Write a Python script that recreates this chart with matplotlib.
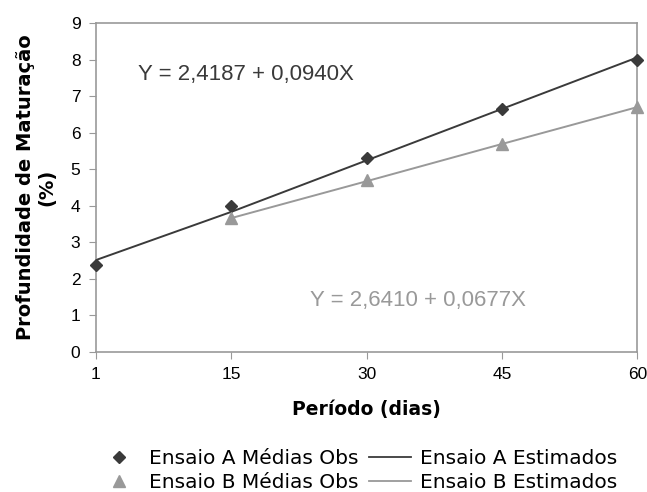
import numpy as np
import matplotlib.pyplot as plt
from matplotlib.lines import Line2D

plt.rcParams["font.family"] = ["Liberation Sans", "DejaVu Sans"]

# Data
periods = ["1", "15", "30", "45", "60"]
a_obs = [2.37, 4.00, 5.31, 6.66, 7.98]
a_est = [2.51, 3.83, 5.24, 6.65, 8.06]
b_obs = [np.nan, 3.66, 4.71, 5.70, 6.71]
b_est = [np.nan, 3.66, 4.67, 5.69, 6.70]

dark = "#3a3a3a"
grey = "#999999"
wide = ["DejaVu Sans"]  # wider face, closer to the spaced-out text of the original

fig = plt.figure(figsize=(6.47, 4.92), dpi=100)
ax = fig.add_axes([0.148, 0.285, 0.837, 0.668])

x = np.arange(len(periods))
ax.plot(x, a_est, color=dark, lw=1.4, zorder=2)
ax.plot(x, b_est, color=grey, lw=1.4, zorder=2)
ax.plot(x, a_obs, ls="none", marker="D", ms=6.5, color=dark, zorder=3, clip_on=False)
ax.plot(x, b_obs, ls="none", marker="^", ms=8, color=grey, zorder=3, clip_on=False)

ax.set_xlim(0, 4)
ax.set_ylim(0, 9)
ax.set_xticks(x)
ax.set_xticklabels(periods)
ax.set_yticks(range(0, 10))
ax.tick_params(axis="both", direction="out", length=5, color=grey, labelsize=12.5, pad=6)
for s in ax.spines.values():
    s.set_color(grey)
    s.set_linewidth(1.2)

ax.set_xlabel("Período (dias)", fontsize=13.5, fontweight="bold", labelpad=13,
              family=wide)
ax.set_ylabel("Profundidade de Maturação\n(%)", fontsize=14, fontweight="bold",
              labelpad=10, linespacing=1.2, family=wide)

ax.text(0.31, 7.6, "Y = 2,4187 + 0,0940X", fontsize=16, color=dark, va="center")
ax.text(1.58, 1.4, "Y = 2,6410 + 0,0677X", fontsize=16, color=grey, va="center")

handles = [
    Line2D([], [], ls="none", marker="D", ms=6, color=dark),
    Line2D([], [], ls="none", marker="^", ms=8, color=grey),
    Line2D([], [], color=dark, lw=1.3),
    Line2D([], [], color=grey, lw=1.3),
]
labels = ["Ensaio A Médias Obs", "Ensaio B Médias Obs",
          "Ensaio A Estimados", "Ensaio B Estimados"]
fig.legend(handles, labels, ncol=2, loc="center", bbox_to_anchor=(0.553, 0.044),
           frameon=False, prop={"family": wide, "size": 14.5}, handlelength=2.1,
           columnspacing=0.5, labelspacing=0.22, handletextpad=0.45)

fig.savefig("out.png", dpi=100)
